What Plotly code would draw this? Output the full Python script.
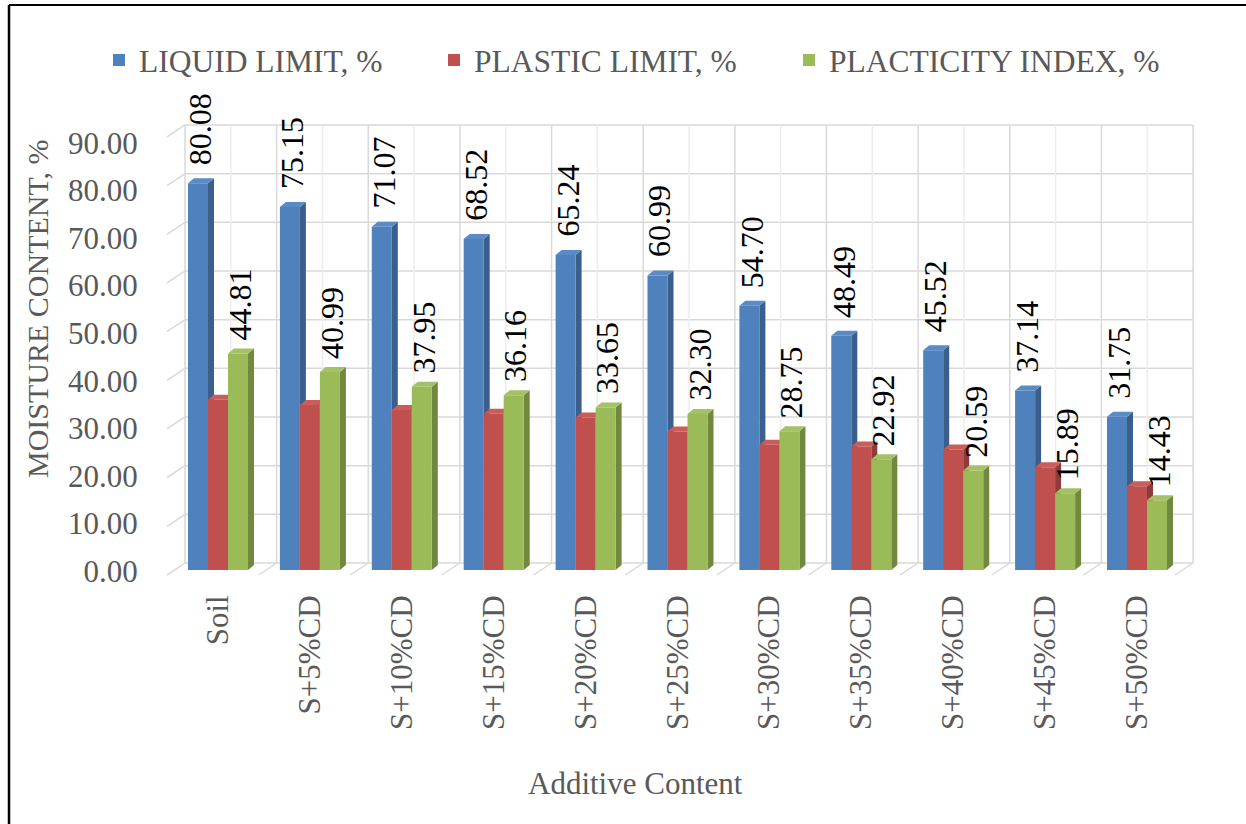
import plotly.graph_objects as go

# ---------------- data ----------------
categories = ["Soil", "S+5%CD", "S+10%CD", "S+15%CD", "S+20%CD", "S+25%CD",
              "S+30%CD", "S+35%CD", "S+40%CD", "S+45%CD", "S+50%CD"]
liquid_limit = [80.08, 75.15, 71.07, 68.52, 65.24, 60.99, 54.70, 48.49, 45.52, 37.14, 31.75]
plastic_limit = [35.27, 34.16, 33.12, 32.36, 31.59, 28.69, 25.95, 25.57, 24.93, 21.25, 17.32]
plasticity_index = [44.81, 40.99, 37.95, 36.16, 33.65, 32.30, 28.75, 22.92, 20.59, 15.89, 14.43]
series_names = ["LIQUID LIMIT, %", "PLASTIC LIMIT, %", "PLACTICITY INDEX, %"]
y_ticks = [0, 10, 20, 30, 40, 50, 60, 70, 80, 90]

# ---------------- styling / geometry ----------------
W, H = 1246, 824
PX0, PX1, PY0, PY1 = 160, 1200, 120, 580          # plot area in pixels
front_cols = ["#4F81BD", "#C0504D", "#9BBB59"]
side_cols = ["#3A5F8D", "#8E3B39", "#71893F"]
top_cols = ["#5A8BC6", "#C85D5A", "#A4C265"]
GREY = "#595959"
SERIF = "Liberation Serif"

cat_px = 91.9            # pixels per category on the bar plane
cat0_px = 218            # pixel x of first category centre
bar_zero_px, bar_scale = 570, 4.83
tick_zero_px, tick_scale = 571, 4.756
back_zero_px, back_scale = 563, 4.867
back_x0_px, back_cat_px = 185, 91.64
depth_dx_px, depth_dy_px = 18, 12     # wall depth
bar_dx_px, bar_dy_px = 6, 5           # bar depth

bargap = 0.347
n = len(categories)

x_range = [-(cat0_px - PX0) / cat_px, (PX1 - cat0_px) / cat_px]
y_range = [-(PY1 - bar_zero_px) / bar_scale, (bar_zero_px - PY0) / bar_scale]
y3_range = [-(PY1 - back_zero_px) / back_scale, (back_zero_px - PY0) / back_scale]
x2_range = [-(back_x0_px - PX0) / back_cat_px, (PX1 - back_x0_px) / back_cat_px]
# tick label positions on the front plane, expressed on the bar axis
tick_pos = [(bar_zero_px - tick_zero_px + v * tick_scale) / bar_scale for v in y_ticks]


def paper_x(px):
    return (px - PX0) / (PX1 - PX0)


def paper_y(py):
    return (PY1 - py) / (PY1 - PY0)


fig = go.Figure()
all_series = [liquid_limit, plastic_limit, plasticity_index]
labelled = [True, False, True]
label_shift = [16, 0, 11]
legend_widths = [290, 310, 345]
bw = (1 - bargap) / 3
annotations = []
for k, vals in enumerate(all_series):
    fig.add_trace(go.Bar(
        x=categories, y=vals, name=series_names[k],
        marker=dict(color=front_cols[k], line=dict(width=0)),
        legendwidth=legend_widths[k],
        hoverinfo="skip",
    ))
    if labelled[k]:
        for i, v in enumerate(vals):
            annotations.append(dict(
                text=f"{v:.2f}", xref="x", yref="y",
                x=i - (1 - bargap) / 2 + k * bw + bw / 2, y=v,
                xanchor="center", yanchor="bottom", textangle=-90,
                showarrow=False, yshift=label_shift[k], xshift=2,
                font=dict(family=SERIF, size=32, color="black")))

shapes = []
# back wall, left wall and floor grid
gx_depth = depth_dx_px / back_cat_px
gy_depth = depth_dy_px / back_scale
for v in y_ticks:
    shapes.append(dict(type="line", xref="x2", yref="y3", x0=0, x1=n, y0=v, y1=v,
                       line=dict(color="#D9D9D9", width=1.5), layer="below"))
    shapes.append(dict(type="line", xref="x2", yref="y3", x0=-gx_depth, x1=0,
                       y0=v - gy_depth, y1=v,
                       line=dict(color="#D9D9D9", width=1.5), layer="below"))
for k in range(n + 1):
    shapes.append(dict(type="line", xref="x2", yref="y3", x0=k, x1=k, y0=0, y1=y_ticks[-1],
                       line=dict(color="#D9D9D9", width=1.5), layer="below"))
    shapes.append(dict(type="line", xref="x2", yref="y3", x0=k - gx_depth, x1=k,
                       y0=-gy_depth, y1=0,
                       line=dict(color="#D9D9D9", width=1.5), layer="below"))
for k in range(n):
    shapes.append(dict(type="line", xref="x2", yref="y3", x0=k + 0.5, x1=k + 0.5,
                       y0=0, y1=y_ticks[-1],
                       line=dict(color="#EDEDED", width=1.5), layer="below"))

# 3D side and top faces of the bars
bdx = bar_dx_px / cat_px
bdy = bar_dy_px / bar_scale
for k, vals in enumerate(all_series):
    for i, v in enumerate(vals):
        x0 = i - (1 - bargap) / 2 + k * bw
        x1 = x0 + bw
        side = f"M{x1},0 L{x1 + bdx},{bdy} L{x1 + bdx},{v + bdy} L{x1},{v} Z"
        top = f"M{x0},{v} L{x0 + bdx},{v + bdy} L{x1 + bdx},{v + bdy} L{x1},{v} Z"
        shapes.append(dict(type="path", xref="x", yref="y", path=side,
                           fillcolor=side_cols[k], line=dict(width=0), layer="below"))
        shapes.append(dict(type="path", xref="x", yref="y", path=top,
                           fillcolor=top_cols[k], line=dict(width=0), layer="below"))

# outer frame
shapes.append(dict(type="line", xref="paper", yref="paper",
                   x0=paper_x(9), x1=paper_x(1260), y0=paper_y(5), y1=paper_y(5),
                   line=dict(color="black", width=2)))
shapes.append(dict(type="line", xref="paper", yref="paper",
                   x0=paper_x(9), x1=paper_x(9), y0=paper_y(5), y1=paper_y(840),
                   line=dict(color="black", width=2.5)))

annotations += [
    dict(text="MOISTURE CONTENT, %", xref="paper", yref="paper",
         x=paper_x(37), y=paper_y(309), textangle=-90, showarrow=False,
         xanchor="center", yanchor="middle",
         font=dict(family=SERIF, size=30, color=GREY)),
    dict(text="Additive Content", xref="paper", yref="paper",
         x=paper_x(635), y=paper_y(783), showarrow=False,
         xanchor="center", yanchor="middle",
         font=dict(family=SERIF, size=31, color=GREY)),
]

fig.update_layout(
    width=W, height=H, autosize=False,
    margin=dict(l=PX0, r=W - PX1, t=PY0, b=H - PY1, autoexpand=False),
    paper_bgcolor="white", plot_bgcolor="rgba(0,0,0,0)",
    barmode="group", bargap=bargap, bargroupgap=0,
    showlegend=True,
    legend=dict(orientation="h", x=paper_x(99), y=paper_y(60),
                xanchor="left", yanchor="middle",
                font=dict(family=SERIF, size=31.5, color=GREY),
                itemwidth=30, bgcolor="rgba(0,0,0,0)", traceorder="normal"),
    xaxis=dict(type="category", range=x_range, showgrid=False, zeroline=False,
               showline=False, tickangle=-90, ticks="outside", ticklen=2,
               tickcolor="rgba(0,0,0,0)",
               tickfont=dict(family=SERIF, size=31, color=GREY), automargin=False),
    yaxis=dict(range=y_range, showgrid=False, zeroline=False, showline=False,
               tickvals=tick_pos, ticktext=[f"{v:.2f}" for v in y_ticks],
               ticks="outside", ticklen=15, tickcolor="rgba(0,0,0,0)",
               tickfont=dict(family=SERIF, size=31, color=GREY), automargin=False),
    yaxis3=dict(range=y3_range, overlaying="y", visible=False, automargin=False),
    xaxis2=dict(range=x2_range, overlaying="x", visible=False, automargin=False),
    shapes=shapes,
    annotations=annotations,
)

fig.write_html("out.html")
